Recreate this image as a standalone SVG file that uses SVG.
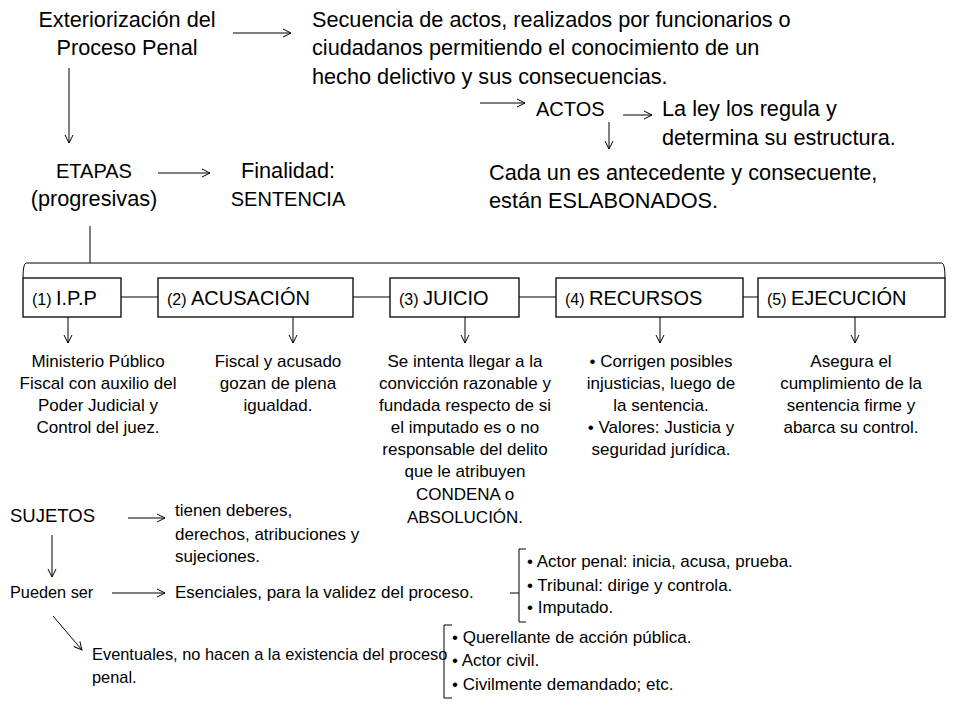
<svg xmlns="http://www.w3.org/2000/svg" width="960" height="720" viewBox="0 0 960 720">
<style>
text{font-family:"Liberation Sans",Arial,sans-serif;fill:#000}
.big{font-size:21.7px}
.cap{font-size:20px}
.mid{font-size:17px}
.sm{font-size:17px}
.c{text-anchor:middle}
.ln{stroke:#000;stroke-width:1;fill:none}
.box{stroke:#000;stroke-width:1.3;fill:#fff}
.n{font-size:16px}
.bl{font-size:20px}
</style>
<defs>
<marker id="ah" markerWidth="10" markerHeight="10" refX="9" refY="5" orient="auto" markerUnits="userSpaceOnUse">
<path d="M1,1 L9,5 L1,9" fill="none" stroke="#000" stroke-width="1"/>
</marker>
</defs>
<rect width="960" height="720" fill="#fff"/>
<g id="connectors">
<line class="ln" x1="233" y1="33" x2="291" y2="33" marker-end="url(#ah)"/>
<line class="ln" x1="69" y1="68" x2="69" y2="143" marker-end="url(#ah)"/>
<line class="ln" x1="480" y1="103" x2="525" y2="103" marker-end="url(#ah)"/>
<line class="ln" x1="623" y1="115" x2="652" y2="115" marker-end="url(#ah)"/>
<line class="ln" x1="609" y1="122" x2="609" y2="149" marker-end="url(#ah)"/>
<line class="ln" x1="158" y1="173" x2="210" y2="173" marker-end="url(#ah)"/>
<line class="ln" x1="90" y1="226" x2="90" y2="263"/>
<path class="ln" d="M23,278 Q23,264 26,263 L942,263 Q945,264 945,278"/>
<line class="ln" x1="121" y1="297" x2="158" y2="297"/>
<line class="ln" x1="353" y1="297" x2="390" y2="297"/>
<line class="ln" x1="519" y1="297" x2="556" y2="297"/>
<line class="ln" x1="743" y1="297" x2="758" y2="297"/>
<line class="ln" x1="68" y1="317" x2="68" y2="343" marker-end="url(#ah)"/>
<line class="ln" x1="293" y1="317" x2="293" y2="343" marker-end="url(#ah)"/>
<line class="ln" x1="465" y1="317" x2="465" y2="343" marker-end="url(#ah)"/>
<line class="ln" x1="660" y1="317" x2="660" y2="343" marker-end="url(#ah)"/>
<line class="ln" x1="855" y1="317" x2="855" y2="343" marker-end="url(#ah)"/>
<line class="ln" x1="128" y1="518" x2="165" y2="518" marker-end="url(#ah)"/>
<line class="ln" x1="52" y1="535" x2="52" y2="577" marker-end="url(#ah)"/>
<line class="ln" x1="112" y1="593" x2="165" y2="593" marker-end="url(#ah)"/>
<line class="ln" x1="53" y1="616" x2="82" y2="650" marker-end="url(#ah)"/>
<path class="ln" d="M526,549 L519,549 L519,622 L526,622 M519,593 L510,593"/>
<path class="ln" d="M452,625 L444,625 L444,698 L452,698"/>
</g>
<g id="exteriorizacion">
<text class="big c" x="127" y="27">Exteriorización del</text>
<text class="big c" x="127" y="55">Proceso Penal</text>
</g>
<g id="secuencia">
<text class="big" x="312" y="27">Secuencia de actos, realizados por funcionarios o</text>
<text class="big" x="312" y="55">ciudadanos permitiendo el conocimiento de un</text>
<text class="big" x="312" y="84">hecho delictivo y sus consecuencias.</text>
</g>
<g id="actos"><text class="cap" x="536" y="116">ACTOS</text></g>
<g id="ley">
<text class="big" x="662" y="116">La ley los regula y</text>
<text class="big" x="662" y="145">determina su estructura.</text>
</g>
<g id="cada">
<text class="big" x="489" y="180">Cada un es antecedente y consecuente,</text>
<text class="big" x="489" y="208">están ESLABONADOS.</text>
</g>
<g id="etapas">
<text class="cap c" x="94" y="178">ETAPAS</text>
<text class="big c" x="94" y="206">(progresivas)</text>
</g>
<g id="finalidad">
<text class="big c" x="288" y="178">Finalidad:</text>
<text class="cap c" x="288" y="206">SENTENCIA</text>
</g>
<g id="ipp"><rect class="box" x="23" y="278" width="98" height="39"/><text x="32" y="305"><tspan class="n">(1) </tspan><tspan class="bl">I.P.P</tspan></text></g>
<g id="acusacion"><rect class="box" x="158" y="278" width="195" height="39"/><text x="167" y="305"><tspan class="n">(2) </tspan><tspan class="bl">ACUSACIÓN</tspan></text></g>
<g id="juicio"><rect class="box" x="390" y="278" width="129" height="39"/><text x="399" y="305"><tspan class="n">(3) </tspan><tspan class="bl">JUICIO</tspan></text></g>
<g id="recursos"><rect class="box" x="556" y="278" width="187" height="39"/><text x="565" y="305"><tspan class="n">(4) </tspan><tspan class="bl">RECURSOS</tspan></text></g>
<g id="ejecucion"><rect class="box" x="758" y="278" width="187" height="39"/><text x="767" y="305"><tspan class="n">(5) </tspan><tspan class="bl">EJECUCIÓN</tspan></text></g>
<g id="txt-ipp">
<text class="mid c" x="98" y="367">Ministerio Público</text>
<text class="mid c" x="98" y="389">Fiscal con auxilio del</text>
<text class="mid c" x="98" y="411">Poder Judicial y</text>
<text class="mid c" x="98" y="433">Control del juez.</text>
</g>
<g id="txt-acusacion">
<text class="mid c" x="278" y="367">Fiscal y acusado</text>
<text class="mid c" x="278" y="389">gozan de plena</text>
<text class="mid c" x="278" y="411">igualdad.</text>
</g>
<g id="txt-juicio">
<text class="mid c" x="465" y="367">Se intenta llegar a la</text>
<text class="mid c" x="465" y="389">convicción razonable y</text>
<text class="mid c" x="465" y="411">fundada respecto de si</text>
<text class="mid c" x="465" y="433">el imputado es o no</text>
<text class="mid c" x="465" y="455">responsable del delito</text>
<text class="mid c" x="465" y="477">que le atribuyen</text>
<text class="mid c" x="465" y="500">CONDENA o</text>
<text class="mid c" x="465" y="523">ABSOLUCIÓN.</text>
</g>
<g id="txt-recursos">
<text class="mid c" x="661" y="367">• Corrigen posibles</text>
<text class="mid c" x="661" y="389">injusticias, luego de</text>
<text class="mid c" x="661" y="411">la sentencia.</text>
<text class="mid c" x="661" y="433">• Valores: Justicia y</text>
<text class="mid c" x="661" y="455">seguridad jurídica.</text>
</g>
<g id="txt-ejecucion">
<text class="mid c" x="851" y="367">Asegura el</text>
<text class="mid c" x="851" y="389">cumplimiento de la</text>
<text class="mid c" x="851" y="411">sentencia firme y</text>
<text class="mid c" x="851" y="433">abarca su control.</text>
</g>
<g id="sujetos"><text x="10" y="522" font-size="18.5">SUJETOS</text></g>
<g id="deberes">
<text class="mid" x="175" y="516">tienen deberes,</text>
<text class="mid" x="175" y="540">derechos, atribuciones y</text>
<text class="mid" x="175" y="562">sujeciones.</text>
</g>
<g id="pueden"><text x="10" y="598" font-size="16.3">Pueden ser</text></g>
<g id="esenciales"><text class="sm" x="175" y="598">Esenciales,  para la validez del proceso.</text></g>
<g id="eventuales">
<text x="92" y="660" font-size="16.4">Eventuales, no hacen a la existencia del proceso</text>
<text x="92" y="683" font-size="16.4">penal.</text>
</g>
<g id="lista-esenciales">
<text class="sm" x="527" y="567">• Actor penal: inicia, acusa, prueba.</text>
<text class="sm" x="527" y="591">• Tribunal: dirige y controla.</text>
<text class="sm" x="527" y="613">• Imputado.</text>
</g>
<g id="lista-eventuales">
<text class="sm" x="452" y="643">• Querellante de acción pública.</text>
<text class="sm" x="452" y="666">• Actor civil.</text>
<text class="sm" x="452" y="690">• Civilmente demandado; etc.</text>
</g>
</svg>
